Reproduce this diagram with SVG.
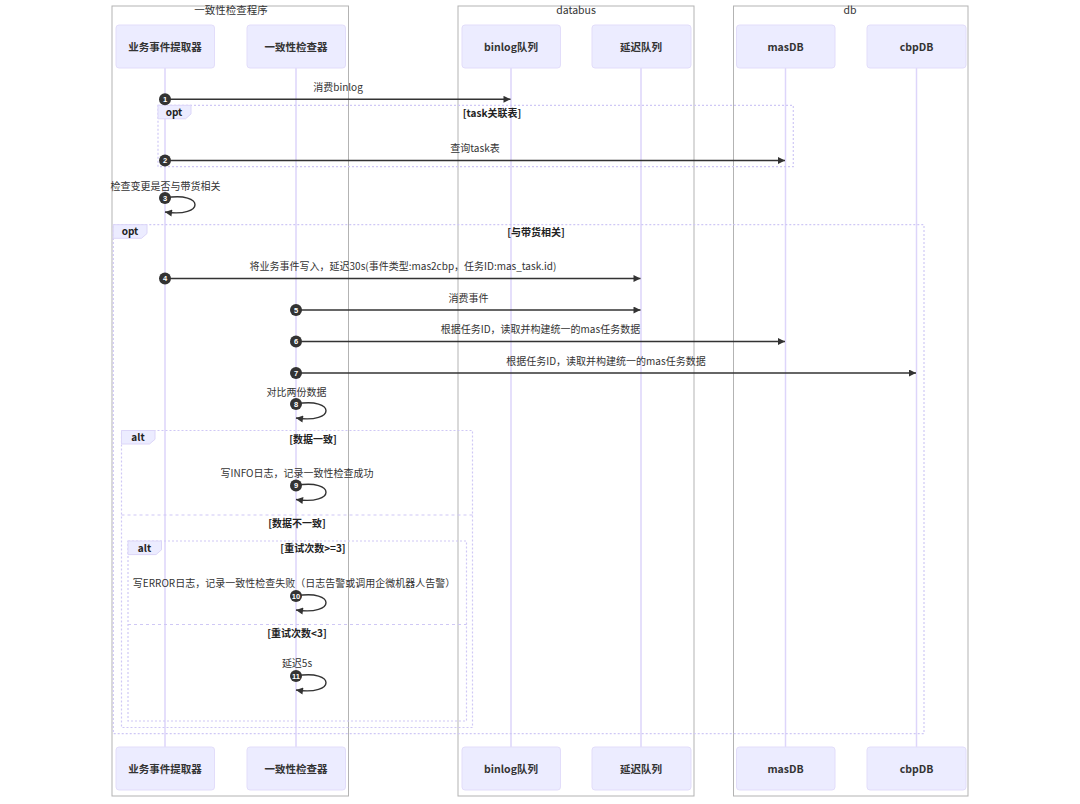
<svg xmlns="http://www.w3.org/2000/svg" width="1080" height="804" viewBox="0 0 1080 804">
<defs>
<marker id="arrow" viewBox="0 0 10 10" refX="10" refY="5" markerWidth="8" markerHeight="7" markerUnits="userSpaceOnUse" orient="auto">
<path d="M0,0 L10,5 L0,10 z" fill="#333"/>
</marker>
<style>
text{font-family:"Noto Sans CJK SC","Liberation Sans",sans-serif;fill:#333;}
.grp{fill:none;stroke:#b3b3b3;stroke-width:1;}
.gt{font-size:10.5px;text-anchor:middle;}
.actor{fill:#ECECFF;stroke:#E2DDFA;stroke-width:1;}
.al{font-size:10.5px;font-weight:bold;text-anchor:middle;fill:#333;}
.life{stroke:#DDD5FA;stroke-width:1.5;}
.frame{fill:none;stroke:#CFC8F5;stroke-width:1.2;stroke-dasharray:2,2;}
.sep{stroke:#CFC8F5;stroke-width:1.2;stroke-dasharray:3,3;}
.tab{fill:#ECECFF;stroke:#DCD6F8;stroke-width:1;}
.tl{font-size:10px;font-weight:bold;text-anchor:middle;fill:#222;}
.cond{font-size:10px;font-weight:bold;text-anchor:middle;fill:#222;}
.msg{stroke:#333;stroke-width:1.4;fill:none;}
.ml{font-size:10px;text-anchor:middle;fill:#333;}
.dot{fill:#333;}
.num{font-size:7.5px;font-weight:bold;fill:#fff;text-anchor:middle;font-family:"Liberation Sans",sans-serif;}
</style>
</defs>
<rect width="1080" height="804" fill="#ffffff"/>

<g id="group-checker">
<rect class="grp" x="112" y="6" width="236.5" height="790"/>
<text class="gt" x="231" y="13.5">一致性检查程序</text>
</g>
<g id="group-databus">
<rect class="grp" x="458" y="6" width="236" height="790"/>
<text class="gt" x="576" y="13.5">databus</text>
</g>
<g id="group-db">
<rect class="grp" x="733.5" y="6" width="234.5" height="790"/>
<text class="gt" x="850" y="13.5">db</text>
</g>

<g id="lifelines">
<line class="life" x1="165" y1="68" x2="165" y2="747"/>
<line class="life" x1="296" y1="68" x2="296" y2="747"/>
<line class="life" x1="511" y1="68" x2="511" y2="747"/>
<line class="life" x1="641" y1="68" x2="641" y2="747"/>
<line class="life" x1="785.5" y1="68" x2="785.5" y2="747"/>
<line class="life" x1="916.5" y1="68" x2="916.5" y2="747"/>
</g>

<g id="actor-extractor">
<rect class="actor" x="116" y="25" width="98.5" height="43" rx="3"/>
<text class="al" x="165" y="50.5">业务事件提取器</text>
<rect class="actor" x="116" y="747" width="98.5" height="43" rx="3"/>
<text class="al" x="165" y="772.5">业务事件提取器</text>
</g>
<g id="actor-checker">
<rect class="actor" x="247" y="25" width="98.5" height="43" rx="3"/>
<text class="al" x="296" y="50.5">一致性检查器</text>
<rect class="actor" x="247" y="747" width="98.5" height="43" rx="3"/>
<text class="al" x="296" y="772.5">一致性检查器</text>
</g>
<g id="actor-binlog">
<rect class="actor" x="462" y="25" width="98.5" height="43" rx="3"/>
<text class="al" x="511" y="50.5">binlog队列</text>
<rect class="actor" x="462" y="747" width="98.5" height="43" rx="3"/>
<text class="al" x="511" y="772.5">binlog队列</text>
</g>
<g id="actor-delay">
<rect class="actor" x="592" y="25" width="99" height="43" rx="3"/>
<text class="al" x="641" y="50.5">延迟队列</text>
<rect class="actor" x="592" y="747" width="99" height="43" rx="3"/>
<text class="al" x="641" y="772.5">延迟队列</text>
</g>
<g id="actor-masdb">
<rect class="actor" x="736.5" y="25" width="98.5" height="43" rx="3"/>
<text class="al" x="785.5" y="50.5">masDB</text>
<rect class="actor" x="736.5" y="747" width="98.5" height="43" rx="3"/>
<text class="al" x="785.5" y="772.5">masDB</text>
</g>
<g id="actor-cbpdb">
<rect class="actor" x="867" y="25" width="99" height="43" rx="3"/>
<text class="al" x="916.5" y="50.5">cbpDB</text>
<rect class="actor" x="867" y="747" width="99" height="43" rx="3"/>
<text class="al" x="916.5" y="772.5">cbpDB</text>
</g>

<g id="frames">
<rect class="frame" x="158" y="105.3" width="635.3" height="61.4"/>
<polygon class="tab" points="158,105.3 191,105.3 191,114 185.5,118.8 158,118.8"/>
<text class="tl" x="174" y="115.8">opt</text>
<text class="cond" x="492" y="117">[task关联表]</text>

<rect class="frame" x="113.3" y="224.7" width="810.7" height="509"/>
<polygon class="tab" points="113.3,224.7 147,224.7 147,233.5 141.5,238.3 113.3,238.3"/>
<text class="tl" x="130" y="235.2">opt</text>
<text class="cond" x="536" y="236">[与带货相关]</text>

<rect class="frame" x="121.5" y="430.5" width="351" height="297"/>
<polygon class="tab" points="121.5,430.5 155,430.5 155,439.3 149.5,444 121.5,444"/>
<text class="tl" x="138" y="441">alt</text>
<text class="cond" x="313" y="443">[数据一致]</text>
<line class="sep" x1="121.5" y1="515" x2="472.5" y2="515"/>
<text class="cond" x="297" y="527">[数据不一致]</text>

<rect class="frame" x="128" y="541" width="338.5" height="180"/>
<polygon class="tab" points="128,541 161.5,541 161.5,549.8 156,554.6 128,554.6"/>
<text class="tl" x="144.5" y="551.5">alt</text>
<text class="cond" x="313" y="552">[重试次数&gt;=3]</text>
<line class="sep" x1="128" y1="624.5" x2="466.5" y2="624.5"/>
<text class="cond" x="297" y="637">[重试次数&lt;3]</text>
</g>

<g id="connectors">
<line class="msg" x1="165" y1="99.3" x2="510.5" y2="99.3" marker-end="url(#arrow)"/>
<text class="ml" x="338" y="91">消费binlog</text>

<line class="msg" x1="165" y1="160.5" x2="785" y2="160.5" marker-end="url(#arrow)"/>
<text class="ml" x="475" y="152">查询task表</text>

<path class="msg" d="M165,198 C205,191 205,218 165,212" marker-end="url(#arrow)"/>
<text class="ml" x="165.5" y="190">检查变更是否与带货相关</text>

<line class="msg" x1="165" y1="278.5" x2="640.5" y2="278.5" marker-end="url(#arrow)"/>
<text class="ml" x="403" y="270">将业务事件写入，延迟30s(事件类型:mas2cbp，任务ID:mas_task.id)</text>

<line class="msg" x1="296" y1="310" x2="640.5" y2="310" marker-end="url(#arrow)"/>
<text class="ml" x="468.5" y="302">消费事件</text>

<line class="msg" x1="296" y1="341.5" x2="785" y2="341.5" marker-end="url(#arrow)"/>
<text class="ml" x="540.5" y="333">根据任务ID，读取并构建统一的mas任务数据</text>

<line class="msg" x1="296" y1="373" x2="916" y2="373" marker-end="url(#arrow)"/>
<text class="ml" x="606" y="365">根据任务ID，读取并构建统一的mas任务数据</text>

<path class="msg" d="M296,404 C336,397 336,424 296,418" marker-end="url(#arrow)"/>
<text class="ml" x="296.5" y="396">对比两份数据</text>

<path class="msg" d="M296,485.5 C336,478.5 336,505.5 296,499.5" marker-end="url(#arrow)"/>
<text class="ml" x="297" y="477">写INFO日志，记录一致性检查成功</text>

<path class="msg" d="M296,596 C336,589 336,616 296,610" marker-end="url(#arrow)"/>
<text class="ml" x="294" y="587">写ERROR日志，记录一致性检查失败（日志告警或调用企微机器人告警）</text>

<path class="msg" d="M296,676 C336,669 336,696 296,690" marker-end="url(#arrow)"/>
<text class="ml" x="297" y="667">延迟5s</text>
</g>

<g id="sequence-numbers">
<circle class="dot" cx="165" cy="99.3" r="6"/><text class="num" x="165" y="102">1</text>
<circle class="dot" cx="165" cy="160.5" r="6"/><text class="num" x="165" y="163.2">2</text>
<circle class="dot" cx="165" cy="198" r="6"/><text class="num" x="165" y="200.7">3</text>
<circle class="dot" cx="165" cy="278.5" r="6"/><text class="num" x="165" y="281.2">4</text>
<circle class="dot" cx="296" cy="310" r="6"/><text class="num" x="296" y="312.7">5</text>
<circle class="dot" cx="296" cy="341.5" r="6"/><text class="num" x="296" y="344.2">6</text>
<circle class="dot" cx="296" cy="373" r="6"/><text class="num" x="296" y="375.7">7</text>
<circle class="dot" cx="296" cy="404" r="6"/><text class="num" x="296" y="406.7">8</text>
<circle class="dot" cx="296" cy="485.5" r="6"/><text class="num" x="296" y="488.2">9</text>
<circle class="dot" cx="296" cy="596" r="6"/><text class="num" x="296" y="598.7">10</text>
<circle class="dot" cx="296" cy="676" r="6"/><text class="num" x="296" y="678.7">11</text>
</g>
</svg>
